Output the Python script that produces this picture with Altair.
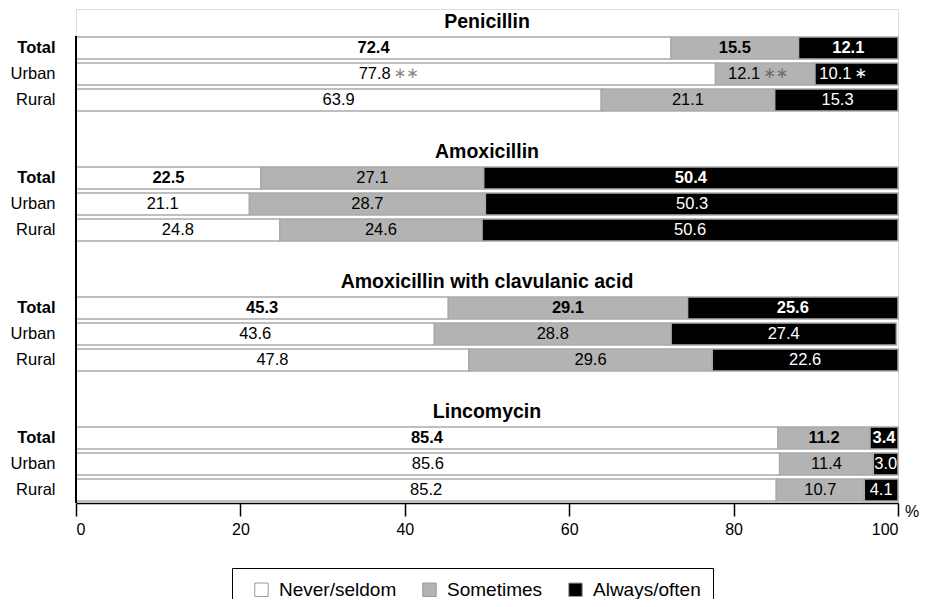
import altair as alt
import pandas as pd

groups = ["Penicillin", "Amoxicillin", "Amoxicillin with clavulanic acid", "Lincomycin"]
rows = ["Total", "Urban", "Rural"]
categories = ["Never/seldom", "Sometimes", "Always/often"]

never = [72.4, 77.8, 63.9, 22.5, 21.1, 24.8, 45.3, 43.6, 47.8, 85.4, 85.6, 85.2]
sometimes = [15.5, 12.1, 21.1, 27.1, 28.7, 24.6, 29.1, 28.8, 29.6, 11.2, 11.4, 10.7]
always = [12.1, 10.1, 15.3, 50.4, 50.3, 50.6, 25.6, 27.4, 22.6, 3.4, 3.0, 4.1]

# which value labels are printed in bold (Total rows, except Amoxicillin "Sometimes")
bold_never = [True, False, False] * 4
bold_sometimes = [True, False, False, False, False, False, True, False, False, True, False, False]
bold_always = [True, False, False] * 4

stars_never = ["", "**", "", "", "", "", "", "", "", "", "", ""]
stars_sometimes = ["", "**", "", "", "", "", "", "", "", "", "", ""]
stars_always = ["", "*", "", "", "", "", "", "", "", "", "", ""]

x_ticks = [0, 20, 40, 60, 80, 100]

FONT = "Liberation Sans"
W, H = 822, 494

# y domain: a title row, three bar rows and a spacer per group
domain = []
for gi, g in enumerate(groups):
    domain.append(f"{gi}|title")
    for r in rows:
        domain.append(f"{gi}|{r}")
    if gi < len(groups) - 1:
        domain.append(f"{gi}|gap")

recs = []
for i in range(len(never)):
    gi, r = i // 3, rows[i % 3]
    start = 0.0
    for cat, vals, stars, bolds, tcol, scol in [
        ("Never/seldom", never, stars_never, bold_never, "black", "#8a8a8a"),
        ("Sometimes", sometimes, stars_sometimes, bold_sometimes, "black", "#6e6e6e"),
        ("Always/often", always, stars_always, bold_always, "white", "white"),
    ]:
        v = vals[i]
        recs.append(dict(key=f"{gi}|{r}", row=r, cat=cat, start=start, end=start + v,
                         mid=start + v / 2, label=f"{v:.1f}", stars=stars[i],
                         stars_disp=stars[i].replace("*", "\u2217"),
                         tcol=tcol, scol=scol, bold=bolds[i]))
        start += v
df = pd.DataFrame(recs)

titles = pd.DataFrame({"key": [f"{gi}|title" for gi in range(len(groups))],
                       "name": groups, "x": [50] * len(groups)})

yenc = alt.Y("key:N", sort=domain,
             scale=alt.Scale(domain=domain, paddingInner=0.15, paddingOuter=0.075),
             axis=alt.Axis(title=None, ticks=False, domain=False,
                           labelPadding=21, labelFontSize=16.5,
                           labelColor="black", labelFont=FONT,
                           labelExpr="(split(datum.value,'|')[1]=='title' || split(datum.value,'|')[1]=='gap') ? '' : split(datum.value,'|')[1]",
                           labelFontWeight={"condition": {"test": "split(datum.value,'|')[1]=='Total'", "value": "bold"}, "value": "normal"}))

xscale = alt.Scale(domain=[0, 100], clamp=True, nice=False)

bars = alt.Chart(df).mark_bar(stroke="#aaaaaa", strokeWidth=1.5).encode(
    x=alt.X("start:Q", scale=xscale,
            axis=alt.Axis(title=None, values=x_ticks, grid=False, domainColor="black",
                          domainWidth=1.5, tickColor="black", tickWidth=1.5, tickSize=13,
                          labelPadding=5, labelFontSize=16, labelColor="black", labelFont=FONT)),
    x2="end:Q",
    y=yenc,
    color=alt.Color("cat:N", scale=alt.Scale(domain=categories, range=["white", "#b3b3b3", "black"]),
                    legend=alt.Legend(title=None, orient="none", legendX=156, legendY=559,
                                      direction="horizontal", strokeColor="black", padding=12,
                                      symbolType="square", symbolSize=180, symbolOffset=8,
                                      symbolStrokeColor="#999999", symbolStrokeWidth=1,
                                      labelFontSize=19, labelFont=FONT, labelColor="black",
                                      labelOffset=8, columnPadding=15)),
)

yaxis_line = alt.Chart(pd.DataFrame({"v": [0]})).mark_rule(color="black", strokeWidth=2).encode(
    x=alt.X("v:Q", scale=xscale), y=alt.value(27), y2=alt.value(H)
)


def label_layer(bold, starred):
    base = alt.Chart(df).transform_filter(
        f"datum.bold == {'true' if bold else 'false'}"
    )
    if starred:
        base = base.transform_filter("datum.stars != ''")
        m = base.mark_text(font=FONT, fontSize=16.5, fontWeight="bold" if bold else "normal",
                           baseline="middle", align="right", dx=-5, clip=True)
    else:
        base = base.transform_filter("datum.stars == ''")
        m = base.mark_text(font=FONT, fontSize=16.5, fontWeight="bold" if bold else "normal",
                           baseline="middle", align="center", clip=True)
    return m.encode(x=alt.X("mid:Q", scale=xscale), y=alt.Y("key:N", sort=domain),
                    text="label:N", color=alt.Color("tcol:N", scale=None))


labels = [label_layer(True, False), label_layer(False, False), label_layer(False, True)]

star_text = alt.Chart(df).transform_filter("datum.stars != ''").mark_text(
    font="DejaVu Sans", fontSize=15, baseline="middle", align="left", dx=-2, dy=-1, clip=True
).encode(x=alt.X("mid:Q", scale=xscale), y=alt.Y("key:N", sort=domain),
         text="stars_disp:N", color=alt.Color("scol:N", scale=None))

title_text = alt.Chart(titles).mark_text(
    font=FONT, fontSize=19.5, fontWeight="bold", baseline="middle", align="center", color="black"
).encode(x=alt.X("x:Q", scale=xscale), y=alt.Y("key:N", sort=domain), text="name:N")

pct = alt.Chart(pd.DataFrame({"t": ["%"]})).mark_text(
    font=FONT, fontSize=16, align="left", baseline="middle", color="black", dx=7, dy=9
).encode(x=alt.datum(100), y=alt.value(H), text="t:N")

chart = alt.layer(bars, yaxis_line, *labels, star_text, title_text, pct).properties(
    width=W, height=H,
    autosize=alt.AutoSizeParams(type="none"),
    padding={"left": 68, "top": 1, "right": 21, "bottom": 96},
).configure_view(stroke=None).configure(background="white")

chart.save("out.html", embed_options={"renderer": "svg", "actions": False})
